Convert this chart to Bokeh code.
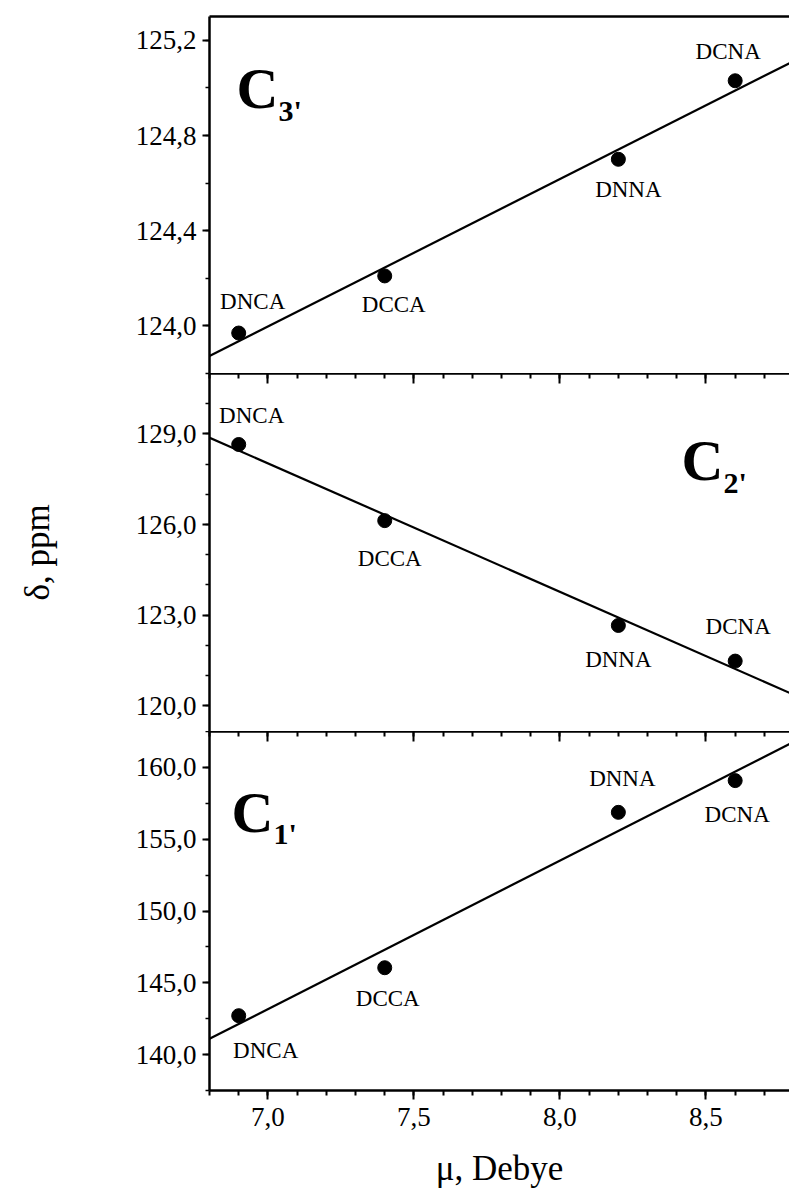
import numpy as np
from bokeh.plotting import figure
from bokeh.layouts import column
from bokeh.models import (LinearAxis, FixedTicker, CustomJSTickFormatter, Label,
                          ColumnDataSource, Range1d)
from bokeh.core.properties import value
from bokeh.embed import file_html
from bokeh.resources import INLINE

# ---------------- data ----------------
compounds = ["DNCA", "DCCA", "DNNA", "DCNA"]
mu_debye = [6.9, 7.4, 8.2, 8.6]
delta_c3 = [123.97, 124.21, 124.70, 125.03]
delta_c2 = [128.65, 126.13, 122.66, 121.48]
delta_c1 = [142.71, 146.05, 156.87, 159.08]

x_ticks = [7.0, 7.5, 8.0, 8.5]
y_ticks_c3 = [124.0, 124.4, 124.8, 125.2]
y_ticks_c2 = [120.0, 123.0, 126.0, 129.0]
y_ticks_c1 = [140.0, 145.0, 150.0, 155.0, 160.0]

x_label = "μ, Debye"
y_label = "δ, ppm"

# ---------------- styles (label offsets in screen px, +down) ----------------
off_c3 = ([14, 9, 10, -7], [-32, 29, 30, -29])
off_c2 = ([13, 5, 0, 3], [-29, 38, 34, -35])
off_c1 = ([27, 3, 4, 2], [35, 31, -34, 34])

FONT = "Liberation Serif"
X0, X1 = 6.8, 8.786
FRAME_W = 580
LEFT = 209
AXW = 2.5

fmt = CustomJSTickFormatter(code="return tick.toFixed(1).replace('.', ',');")
blank_fmt = CustomJSTickFormatter(code="return '';")


def minor_list(lo, hi, step):
    n0 = int(np.ceil(lo / step - 1e-9))
    n1 = int(np.floor(hi / step + 1e-9))
    return [round(k * step, 6) for k in range(n0, n1 + 1)]


def style_common(p):
    p.outline_line_color = None
    p.xgrid.visible = False
    p.ygrid.visible = False
    p.min_border_left = LEFT
    p.min_border_right = 0
    p.min_border_bottom = 0
    p.background_fill_color = "white"
    p.border_fill_color = "white"


def style_yaxis(ax, ticks, minor_step, lo, hi):
    ax.ticker = FixedTicker(ticks=ticks, minor_ticks=minor_list(lo, hi, minor_step))
    ax.formatter = fmt
    ax.axis_line_width = AXW
    ax.axis_line_color = "black"
    ax.major_tick_out = 7
    ax.major_tick_in = 0
    ax.minor_tick_out = 4
    ax.minor_tick_in = 0
    ax.major_tick_line_width = 2
    ax.minor_tick_line_width = 1.5
    ax.major_label_text_font = FONT
    ax.major_label_text_font_size = "27px"
    ax.major_label_text_color = "black"
    ax.major_label_standoff = 6


def top_axis(p, with_ticks):
    if with_ticks:
        tk = FixedTicker(ticks=x_ticks, minor_ticks=minor_list(X0, X1, 0.1))
    else:
        tk = FixedTicker(ticks=[], minor_ticks=[])
    ax = LinearAxis(ticker=tk, formatter=blank_fmt)
    ax.axis_line_width = AXW
    ax.major_tick_in = 10 if with_ticks else 0
    ax.major_tick_out = 0
    ax.minor_tick_in = 5 if with_ticks else 0
    ax.minor_tick_out = 0
    ax.major_tick_line_width = 2
    ax.minor_tick_line_width = 2
    ax.major_tick_line_color = "black"
    ax.minor_tick_line_color = "black"
    ax.major_label_text_font_size = "1px"
    ax.major_label_standoff = 0
    p.add_layout(ax, "above")


def add_data(p, yvals, offs):
    src = ColumnDataSource(dict(x=mu_debye, y=yvals, name=compounds,
                                dx=offs[0], dy=offs[1]))
    coef = np.polyfit(mu_debye, yvals, 1)
    xl = [X0 - 0.1, X1 + 0.1]
    p.line(xl, list(np.polyval(coef, xl)), line_color="black", line_width=2.2)
    p.scatter("x", "y", source=src, size=14, color="black")
    p.text("x", "y", text="name", source=src, x_offset="dx", y_offset="dy",
           text_font=value(FONT), text_font_size="23px", text_align="center",
           text_baseline="middle", text_color="black")


def add_c(p, sub, cx, cy, sx, sy):
    p.add_layout(Label(x=cx, y=cy, x_units="screen", y_units="screen", text="C",
                       text_font=FONT, text_font_size="58px", text_font_style="bold",
                       text_baseline="alphabetic", text_align="left", text_color="black"))
    p.add_layout(Label(x=sx, y=sy, x_units="screen", y_units="screen", text=sub,
                       text_font=FONT, text_font_size="30px", text_font_style="bold",
                       text_baseline="alphabetic", text_align="left", text_color="black"))


def make_fig(y0, y1, frame_h):
    return figure(frame_width=FRAME_W, frame_height=frame_h, x_range=Range1d(X0, X1),
                  y_range=Range1d(y0, y1), x_axis_location=None,
                  output_backend="svg", toolbar_location=None)


# ---------------- top panel: C3' ----------------
p1 = make_fig(123.8, 125.3, 357)
style_common(p1)
p1.min_border_top = 16
style_yaxis(p1.yaxis[0], y_ticks_c3, 0.2, 123.8, 125.3)
top_axis(p1, False)
add_data(p1, delta_c3, off_c3)
add_c(p1, "3'", 27, 285, 69, 263)

# ---------------- middle panel: C2' ----------------
p2 = make_fig(119.15, 131.0, 358)
style_common(p2)
p2.min_border_top = 0
style_yaxis(p2.yaxis[0], y_ticks_c2, 1.0, 119.15, 131.0)
p2.yaxis[0].axis_label = y_label
p2.yaxis[0].axis_label_text_font = FONT
p2.yaxis[0].axis_label_text_font_size = "35px"
p2.yaxis[0].axis_label_text_font_style = "normal"
p2.yaxis[0].axis_label_text_color = "black"
p2.yaxis[0].axis_label_standoff = 76
top_axis(p2, True)
add_data(p2, delta_c2, off_c2)
add_c(p2, "2'", 472, 271, 514, 249)

# ---------------- bottom panel: C1' ----------------
p3 = make_fig(137.5, 162.5, 359)
style_common(p3)
p3.min_border_top = 0
style_yaxis(p3.yaxis[0], y_ticks_c1, 2.5, 137.5, 162.5)
top_axis(p3, True)
xa = LinearAxis(ticker=FixedTicker(ticks=x_ticks, minor_ticks=minor_list(X0, X1, 0.1)),
                formatter=fmt)
xa.axis_line_width = AXW
xa.major_tick_out = 9
xa.major_tick_in = 0
xa.minor_tick_out = 5
xa.minor_tick_in = 0
xa.major_tick_line_width = 2
xa.minor_tick_line_width = 2
xa.major_label_text_font = FONT
xa.major_label_text_font_size = "27px"
xa.major_label_text_color = "black"
xa.major_label_standoff = 8
xa.axis_label = x_label
xa.axis_label_text_font = FONT
xa.axis_label_text_font_size = "35px"
xa.axis_label_text_font_style = "normal"
xa.axis_label_text_color = "black"
xa.axis_label_standoff = 20
p3.add_layout(xa, "below")
add_data(p3, delta_c1, off_c1)
add_c(p3, "1'", 22, 278, 64, 257)

layout = column(p1, p2, p3, spacing=0)
open("out.html", "w").write(file_html(layout, INLINE))
